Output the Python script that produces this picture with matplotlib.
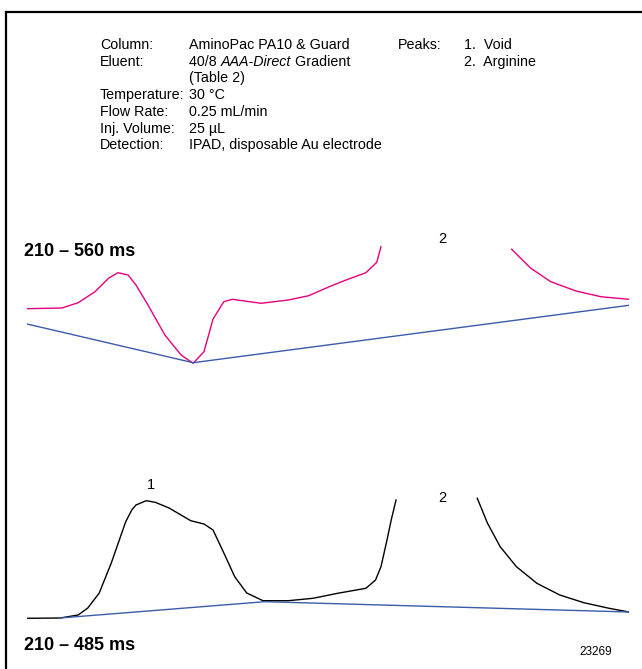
import matplotlib
matplotlib.use("Agg")
import numpy as np
import matplotlib.pyplot as plt

plt.rcParams['font.family'] = ['Liberation Sans', 'DejaVu Sans']

# ---- data (time in min, signal in arbitrary nC) ----
# 210-560 ms waveform (pink trace), peak 2 is off scale -> NaN gap
t_560 = [0.0, 0.58, 0.85, 1.13, 1.36, 1.51, 1.68, 1.81, 2.01, 2.29, 2.56, 2.76,
         2.94, 3.09, 3.27, 3.41, 3.89, 4.34, 4.68, 5.02, 5.33, 5.63, 5.81, 5.88,
         np.nan,
         8.05, 8.37, 8.70, 9.12, 9.53, 10.0]
y_560 = [7.13, 7.2, 7.73, 8.83, 10.2, 10.73, 10.5, 9.5, 7.5, 4.5, 2.5, 1.67,
         2.83, 6.1, 7.83, 8.07, 7.67, 8.0, 8.43, 9.33, 10.07, 10.73, 11.77, 13.33,
         np.nan,
         13.07, 11.17, 9.83, 8.9, 8.33, 8.07]
base_t_560 = [0.0, 2.76, 10.0]
base_y_560 = [5.6, 1.73, 7.47]

# 210-485 ms waveform (black trace)
t_485 = [0.0, 0.55, 0.85, 1.01, 1.20, 1.40, 1.64, 1.74, 1.81, 1.98, 2.13, 2.36, 2.72,
         2.94, 3.09, 3.27, 3.45, 3.65, 3.92, 4.34, 4.75, 5.16, 5.63, 5.79, 5.88,
         5.98, 6.05, 6.13,
         np.nan,
         7.48, 7.65, 7.86, 8.13, 8.47, 8.85, 9.25, 9.67, 10.0]
y_485 = [1.17, 1.2, 1.5, 2.2, 3.7, 6.7, 10.83, 12.0, 12.5, 12.93, 12.77, 12.2, 10.93,
         10.6, 10.0, 7.7, 5.33, 3.7, 2.93, 2.93, 3.17, 3.67, 4.17, 5.0, 6.33,
         9.0, 11.0, 13.0,
         np.nan,
         13.17, 10.67, 8.33, 6.33, 4.67, 3.5, 2.73, 2.17, 1.8]
base_t_485 = [0.55, 3.95, 10.0]
base_y_485 = [1.2, 2.83, 1.8]

peak_labels_560 = [("2", 6.9, 14.1)]
peak_labels_485 = [("1", 2.06, 14.5), ("2", 6.9, 13.2)]

cond_keys = ["Column:", "Eluent:", "", "Temperature:", "Flow Rate:", "Inj. Volume:", "Detection:"]
cond_vals = ["AminoPac PA10 & Guard", None, "(Table 2)", "30 °C", "0.25 mL/min",
             "25 µL", "IPAD, disposable Au electrode"]
peaks = ["1.  Void", "2.  Arginine"]

W, H = 642, 669
fig = plt.figure(figsize=(W / 100, H / 100), dpi=100)


def fx(px):
    return px / W


def fy(py):
    return 1 - py / H


# frame lines (left and top)
fig.add_artist(plt.Line2D([fx(6), fx(6)], [fy(12), 0], color='black', lw=1.6))
fig.add_artist(plt.Line2D([fx(6), 1], [fy(12), fy(12)], color='black', lw=1.6))

# chromatogram axes
ax1 = fig.add_axes([fx(27), fy(380), fx(629) - fx(27), fy(230) - fy(380)])
ax1.plot(t_560, y_560, color='#e5007d', lw=1.0)
ax1.plot(base_t_560, base_y_560, color='#3b5ba9', lw=1.0)
ax1.set_xlim(0, 10)
ax1.set_ylim(0, 15)
for lab, x, y in peak_labels_560:
    ax1.text(x, y, lab, ha='center', va='center', fontsize=10.5)

ax2 = fig.add_axes([fx(27), fy(630), fx(629) - fx(27), fy(470) - fy(630)])
ax2.plot(t_485, y_485, color='black', lw=1.0)
ax2.plot(base_t_485, base_y_485, color='#3b5ba9', lw=1.0)
ax2.set_xlim(0, 10)
ax2.set_ylim(0, 16)
for lab, x, y in peak_labels_485:
    ax2.text(x, y, lab, ha='center', va='center', fontsize=10.5)

for ax in (ax1, ax2):
    ax.axis('off')
    ax.patch.set_alpha(0)

# waveform labels
fig.text(fx(24), fy(251), "210 – 560 ms", fontsize=13, fontweight='bold', va='center')
fig.text(fx(24), fy(646), "210 – 485 ms", fontsize=13, fontweight='bold', va='center')
fig.text(fx(596), fy(652), "23269", fontsize=8.5, ha='center', va='center')

# conditions block
fs = 10.3
y0, dy = 45, 16.7
for i, (k, v) in enumerate(zip(cond_keys, cond_vals)):
    yy = fy(y0 + i * dy)
    if k:
        fig.text(fx(100), yy, k, fontsize=fs, va='center')
    if v is not None:
        fig.text(fx(189), yy, v, fontsize=fs, va='center')

# eluent line with italic product name
renderer = fig.canvas.get_renderer()
yy = fy(y0 + dy)
x = fx(189)
for piece, style in [("40/8 ", 'normal'), ("AAA-Direct", 'italic'), (" Gradient", 'normal')]:
    t = fig.text(x, yy, piece, fontsize=fs, va='center', style=style)
    bb = t.get_window_extent(renderer)
    x += bb.width / W

fig.text(fx(398), fy(y0), "Peaks:", fontsize=fs, va='center')
for i, p in enumerate(peaks):
    fig.text(fx(464), fy(y0 + i * dy), p, fontsize=fs, va='center')

fig.savefig("out.png", dpi=100)
